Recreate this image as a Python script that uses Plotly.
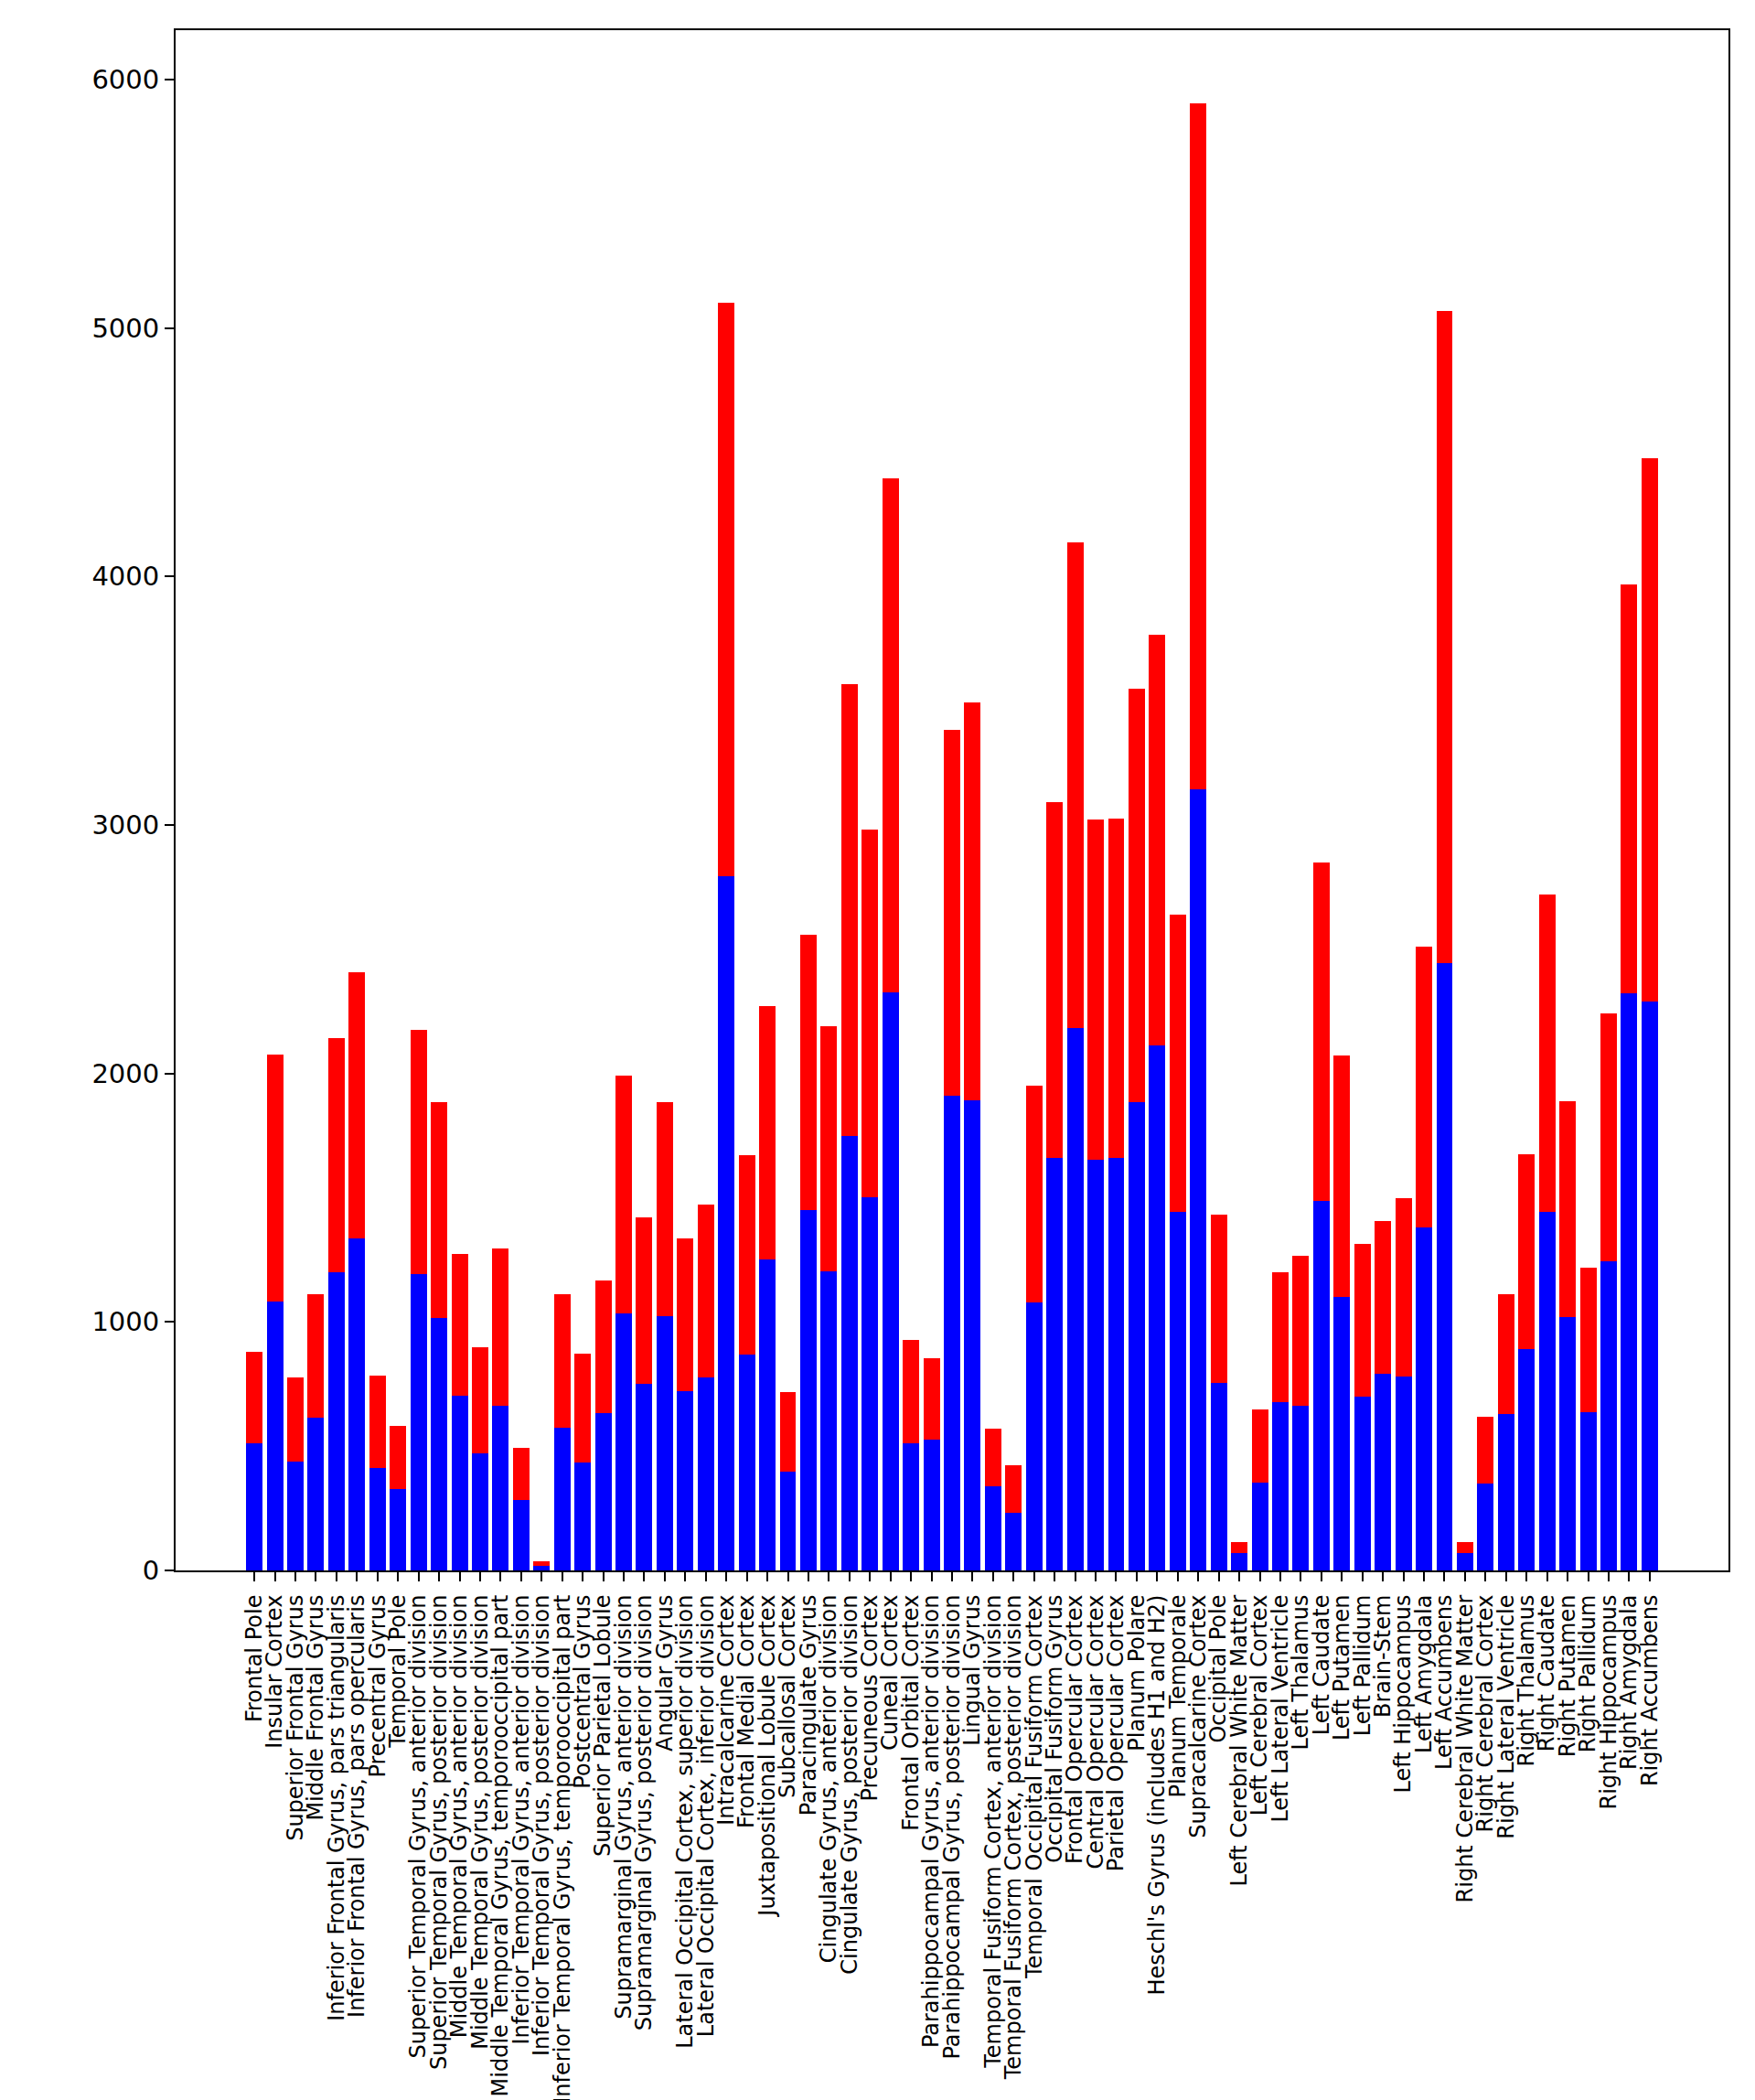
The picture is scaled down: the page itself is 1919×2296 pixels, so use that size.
import plotly.graph_objects as go

regions = [
    "Frontal Pole", "Insular Cortex", "Superior Frontal Gyrus", "Middle Frontal Gyrus",
    "Inferior Frontal Gyrus, pars triangularis", "Inferior Frontal Gyrus, pars opercularis",
    "Precentral Gyrus", "Temporal Pole",
    "Superior Temporal Gyrus, anterior division", "Superior Temporal Gyrus, posterior division",
    "Middle Temporal Gyrus, anterior division", "Middle Temporal Gyrus, posterior division",
    "Middle Temporal Gyrus, temporooccipital part",
    "Inferior Temporal Gyrus, anterior division", "Inferior Temporal Gyrus, posterior division",
    "Inferior Temporal Gyrus, temporooccipital part",
    "Postcentral Gyrus", "Superior Parietal Lobule",
    "Supramarginal Gyrus, anterior division", "Supramarginal Gyrus, posterior division",
    "Angular Gyrus",
    "Lateral Occipital Cortex, superior division", "Lateral Occipital Cortex, inferior division",
    "Intracalcarine Cortex", "Frontal Medial Cortex", "Juxtapositional Lobule Cortex",
    "Subcallosal Cortex", "Paracingulate Gyrus",
    "Cingulate Gyrus, anterior division", "Cingulate Gyrus, posterior division",
    "Precuneous Cortex", "Cuneal Cortex", "Frontal Orbital Cortex",
    "Parahippocampal Gyrus, anterior division", "Parahippocampal Gyrus, posterior division",
    "Lingual Gyrus",
    "Temporal Fusiform Cortex, anterior division", "Temporal Fusiform Cortex, posterior division",
    "Temporal Occipital Fusiform Cortex", "Occipital Fusiform Gyrus",
    "Frontal Opercular Cortex", "Central Opercular Cortex", "Parietal Opercular Cortex",
    "Planum Polare", "Heschl's Gyrus (includes H1 and H2)", "Planum Temporale",
    "Supracalcarine Cortex", "Occipital Pole",
    "Left Cerebral White Matter", "Left Cerebral Cortex", "Left Lateral Ventricle",
    "Left Thalamus", "Left Caudate", "Left Putamen", "Left Pallidum", "Brain-Stem",
    "Left Hippocampus", "Left Amygdala", "Left Accumbens",
    "Right Cerebral White Matter", "Right Cerebral Cortex", "Right Lateral Ventricle",
    "Right Thalamus", "Right Caudate", "Right Putamen", "Right Pallidum",
    "Right Hippocampus", "Right Amygdala", "Right Accumbens",
]

# lower (blue) segment values
blue_values = [
    510, 1081, 438, 614, 1200, 1337, 414, 326, 1194, 1016,
    704, 472, 662, 282, 20, 575, 436, 633, 1033, 751,
    1024, 720, 775, 2795, 870, 1252, 399, 1452, 1203, 1748,
    1500, 2328, 512, 528, 1909, 1892, 339, 232, 1077, 1659,
    2181, 1653, 1659, 1885, 2111, 1443, 3145, 754, 70, 355,
    679, 662, 1486, 1099, 700, 792, 781, 1379, 2445, 70,
    350, 630, 889, 1443, 1018, 636, 1244, 2321, 2289,
]

# total bar height (blue + red)
total_values = [
    879, 2077, 775, 1112, 2143, 2407, 783, 581, 2175, 1885,
    1274, 897, 1297, 494, 36, 1112, 871, 1168, 1991, 1419,
    1885, 1337, 1474, 5101, 1671, 2271, 716, 2559, 2190, 3566,
    2980, 4394, 927, 853, 3383, 3492, 571, 425, 1950, 3092,
    4136, 3022, 3027, 3549, 3765, 2639, 5903, 1433, 113, 646,
    1201, 1266, 2849, 2074, 1314, 1406, 1497, 2510, 5068, 113,
    619, 1110, 1675, 2720, 1890, 1217, 2241, 3969, 4476,
]

red_values = [t - b for t, b in zip(total_values, blue_values)]

y_ticks = [0, 1000, 2000, 3000, 4000, 5000, 6000]

fig = go.Figure()
fig.add_trace(go.Bar(x=regions, y=blue_values, marker=dict(color="#0000ff", line=dict(width=0)),
                     showlegend=False))
fig.add_trace(go.Bar(x=regions, y=red_values, marker=dict(color="#ff0000", line=dict(width=0)),
                     showlegend=False))

n = len(regions)
pad = 0.05 * (n - 1 + 0.8)
fig.update_layout(
    width=1919, height=2296,
    barmode="stack", bargap=0.2,
    paper_bgcolor="white", plot_bgcolor="white",
    margin=dict(l=192, r=29, t=33, b=579, autoexpand=False),
    font=dict(family="DejaVu Sans", color="#000000"),
)
fig.update_xaxes(
    type="category",
    tickmode="linear", tick0=0, dtick=1,
    range=[-0.4 - pad, n - 1 + 0.4 + pad],
    showline=True, linecolor="black", linewidth=2, mirror=True,
    ticks="outside", ticklen=10, tickwidth=2, tickcolor="black",
    ticklabelstandoff=5,
    tickangle=-90, tickfont=dict(size=24, family="DejaVu Sans", color="#000000"),
    showgrid=False, zeroline=False, automargin=False,
)
fig.update_yaxes(
    range=[0, max(total_values) * 1.05],
    tickvals=y_ticks, ticktext=[str(v) for v in y_ticks],
    showline=True, linecolor="black", linewidth=2, mirror=True,
    ticks="outside", ticklen=10, tickwidth=2, tickcolor="black",
    tickfont=dict(size=29, family="DejaVu Sans", color="#000000"),
    showgrid=False, zeroline=False, automargin=False,
)

fig.write_html("out.html", config={"displayModeBar": False},
               post_script="document.body.style.margin='0';")
